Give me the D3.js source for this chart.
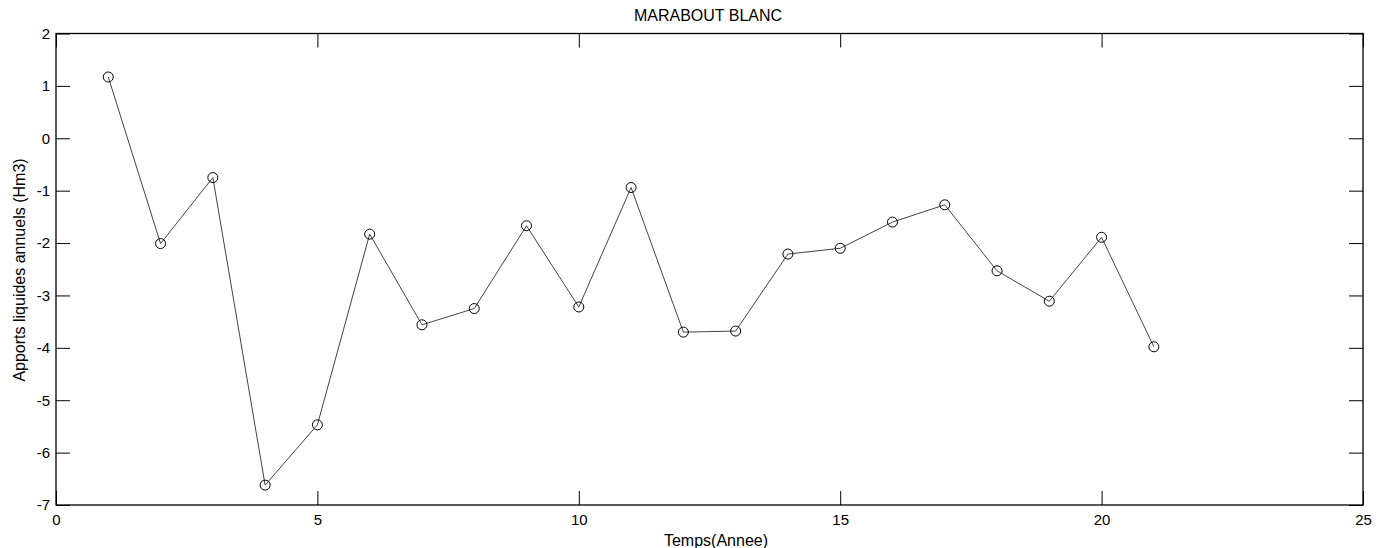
<!DOCTYPE html>
<html>
<head>
<meta charset="utf-8">
<script src="https://cdn.jsdelivr.net/npm/d3@7"></script>
<style>
  body { margin: 0; background: #fff; }
  svg { display: block; font-family: Arial, "Liberation Sans", sans-serif; }
  .tick text { font-size: 15px; fill: #000; }
</style>
</head>
<body>
<div id="chart"></div>
<script>
// annual values
let years = [1, 2, 3, 4, 5, 6, 7, 8, 9, 10, 11, 12, 13, 14, 15, 16, 17, 18, 19, 20, 21];
let apports = [1.17, -2.01, -0.75, -6.62, -5.47, -1.83, -3.56, -3.25, -1.67, -3.22, -0.94,
               -3.70, -3.68, -2.21, -2.10, -1.60, -1.27, -2.53, -3.11, -1.89, -3.98];
let xTicks = [0, 5, 10, 15, 20, 25];
let yTicks = [2, 1, 0, -1, -2, -3, -4, -5, -6, -7];

let total_width = 1381, total_height = 548;
let m_left = 56, m_right = 1363, m_top = 33.5, m_bottom = 505;

var x = d3.scaleLinear().domain([0, 25]).range([m_left, m_right]);
var y = d3.scaleLinear().domain([-7, 2]).range([m_bottom, m_top]);

var svg = d3.select("#chart").append("svg")
    .attr("width", total_width)
    .attr("height", total_height);

let tickLen = 14;

// bottom + top axes (ticks inward)
svg.append("g")
    .attr("transform", "translate(0," + m_bottom + ")")
    .call(d3.axisBottom(x).tickValues(xTicks).tickSizeInner(-tickLen).tickSizeOuter(0).tickPadding(9));
svg.append("g")
    .attr("transform", "translate(0," + m_top + ")")
    .call(d3.axisTop(x).tickValues(xTicks).tickSizeInner(-tickLen).tickSizeOuter(0).tickFormat(""));
// left + right axes
svg.append("g")
    .attr("transform", "translate(" + m_left + ",0)")
    .call(d3.axisLeft(y).tickValues(yTicks).tickSizeInner(-tickLen).tickSizeOuter(0).tickPadding(6));
svg.append("g")
    .attr("transform", "translate(" + m_right + ",0)")
    .call(d3.axisRight(y).tickValues(yTicks).tickSizeInner(-tickLen).tickSizeOuter(0).tickFormat(""));

svg.selectAll(".domain").remove();
svg.selectAll(".tick line").attr("stroke", "#000").attr("stroke-width", 1);
svg.selectAll(".tick text").text(function(d){ return d3.select(this).text().replace("\u2212", "-"); });

// box
svg.append("rect")
    .attr("x", m_left).attr("y", m_top)
    .attr("width", m_right - m_left).attr("height", m_bottom - m_top)
    .attr("fill", "none").attr("stroke", "#000").attr("stroke-width", 1.3);

// series
let line = d3.line().x((d, i) => x(years[i])).y(d => y(d));
svg.append("path")
    .datum(apports)
    .attr("d", line)
    .attr("fill", "none")
    .attr("stroke", "#444")
    .attr("stroke-width", 1);

svg.append("g").selectAll("circle")
    .data(apports)
    .enter().append("circle")
    .attr("cx", (d, i) => x(years[i]))
    .attr("cy", d => y(d))
    .attr("r", 5)
    .attr("fill", "none")
    .attr("stroke", "#000")
    .attr("stroke-width", 1);

// labels
svg.append("text")
    .attr("x", 708).attr("y", 21)
    .attr("text-anchor", "middle")
    .style("font-size", "16px")
    .text("MARABOUT BLANC");

svg.append("text")
    .attr("x", 716).attr("y", 546)
    .attr("text-anchor", "middle")
    .style("font-size", "16px")
    .text("Temps(Annee)");

svg.append("text")
    .attr("transform", "translate(25,270) rotate(-90)")
    .attr("text-anchor", "middle")
    .style("font-size", "16px")
    .text("Apports liquides annuels (Hm3)");
</script>
</body>
</html>
